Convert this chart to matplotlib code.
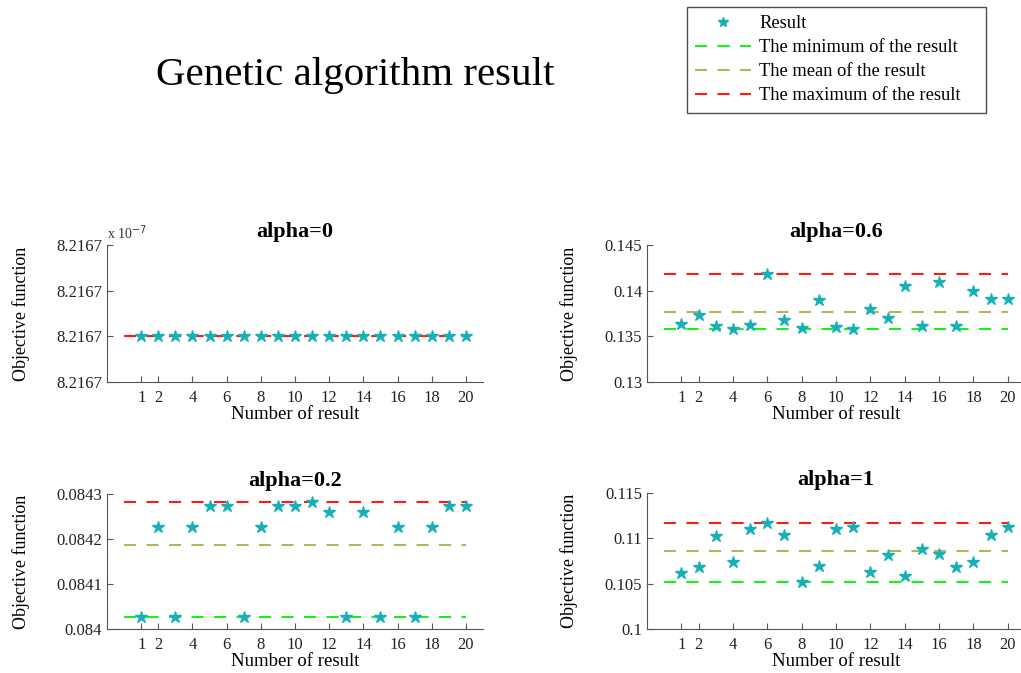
import matplotlib
matplotlib.use('Agg')
import matplotlib.pyplot as plt
from matplotlib.ticker import FuncFormatter
import numpy as np

plt.rcParams['font.family'] = ['Liberation Serif', 'DejaVu Serif']

runs = np.arange(1, 21)
xticks = [1, 2, 4, 6, 8, 10, 12, 14, 16, 18, 20]

# objective value of each run, per alpha
res_a0 = [8.2167e-7] * 20
res_a02 = [0.084026, 0.084227, 0.084026, 0.084227, 0.084273, 0.084273, 0.084026,
           0.084227, 0.084273, 0.084273, 0.084282, 0.084261, 0.084026, 0.084261,
           0.084026, 0.084227, 0.084026, 0.084227, 0.084273, 0.084273]
res_a06 = [0.13640, 0.13732, 0.13611, 0.13578, 0.13622, 0.14185, 0.13677, 0.13596,
           0.13900, 0.13604, 0.13580, 0.13794, 0.13702, 0.14050, 0.13611, 0.14098,
           0.13615, 0.13995, 0.13907, 0.13907]
res_a1 = [0.10618, 0.10687, 0.11029, 0.10735, 0.11106, 0.11173, 0.11040, 0.10515,
          0.10695, 0.11099, 0.11129, 0.10625, 0.10816, 0.10588, 0.10886, 0.10827,
          0.10687, 0.10739, 0.11040, 0.11129]

titles = ['alpha=0', 'alpha=0.6', 'alpha=0.2', 'alpha=1']
ylims = [(8.2167e-7 - 1e-12, 8.2167e-7 + 2e-12), (0.13, 0.145), (0.084, 0.0843), (0.1, 0.115)]
yticks = [[8.2167e-7 - 1e-12, 8.2167e-7, 8.2167e-7 + 1e-12, 8.2167e-7 + 2e-12],
          [0.13, 0.135, 0.14, 0.145],
          [0.084, 0.0841, 0.0842, 0.0843],
          [0.1, 0.105, 0.11, 0.115]]
data = [res_a0, res_a06, res_a02, res_a1]

star_c = '#17B0B6'
min_c = '#19F019'
mean_c = '#B7B35C'
max_c = '#FF1A1A'

W, H = 1021, 673
fig = plt.figure(figsize=(W / 100, H / 100), dpi=100)

# axes boxes in pixels: left, top, right, bottom
boxes = [(107, 245, 483, 382), (647, 245, 1025, 382),
         (107, 494, 483, 629), (647, 493, 1025, 629)]

for i in range(4):
    l, t, r, b = boxes[i]
    ax = fig.add_axes([l / W, 1 - b / H, (r - l) / W, (b - t) / H])
    y = np.array(data[i])
    ax.plot([0, 20], [y.min()] * 2, color=min_c, lw=1.5, dashes=(5.8, 5))
    ax.plot([0, 20], [y.mean()] * 2, color=mean_c, lw=1.5, dashes=(5.8, 5))
    ax.plot([0, 20], [y.max()] * 2, color=max_c, lw=1.5, dashes=(5.8, 5))
    ax.plot(runs, y, '*', color=star_c, ms=9, mec=star_c)
    ax.set_xlim(-1, 21)
    ax.set_ylim(*ylims[i])
    ax.set_xticks(xticks)
    ax.set_yticks(yticks[i])
    if i == 0:
        ax.yaxis.set_major_formatter(FuncFormatter(lambda v, p: '%.4f' % (v / 1e-7)))
        ax.text(0, 1.02, r'x 10$^{-7}$', transform=ax.transAxes, ha='left', va='bottom',
                fontsize=10, color='#333333')
    else:
        ax.yaxis.set_major_formatter(FuncFormatter(lambda v, p: ('%.4f' % v).rstrip('0')))
    ax.spines['top'].set_visible(False)
    ax.spines['right'].set_visible(False)
    for s in ['left', 'bottom']:
        ax.spines[s].set_color('#555555')
    ax.tick_params(direction='in', length=4, labelsize=12, colors='#555555',
                   labelcolor='#222222')
    ax.tick_params(axis='x', pad=6)
    ax.set_title(titles[i], fontsize=16, fontweight='bold', pad=6)
    ax.set_xlabel('Number of result', fontsize=13.5, labelpad=0)
    ax.set_ylabel('Objective function', fontsize=13, labelpad=19)
    ax.patch.set_alpha(0)

fig.text(355 / W, 1 - 85 / H, 'Genetic algorithm result', fontsize=29.5,
         ha='center', va='baseline')

# legend built from proxy artists
h1, = plt.plot([], [], '*', color=star_c, ms=7)
h2, = plt.plot([], [], color=min_c, lw=1.5, dashes=(5.8, 5))
h3, = plt.plot([], [], color=mean_c, lw=1.5, dashes=(5.8, 5))
h4, = plt.plot([], [], color=max_c, lw=1.5, dashes=(5.8, 5))
leg = fig.legend([h1, h2, h3, h4],
                 ['Result', 'The minimum of the result', 'The mean of the result',
                  'The maximum of the result'],
                 loc='upper left', bbox_to_anchor=(687 / W, 1 - 110 / H, 299 / W, 103 / H),
                 mode='expand', borderaxespad=0,
                 fontsize=13.3, frameon=True, fancybox=False, handlelength=3.0,
                 borderpad=0.45, labelspacing=0.38, handletextpad=0.45)
leg.get_frame().set_edgecolor('#222222')
leg.get_frame().set_linewidth(1.0)

fig.savefig('out.png', dpi=100)
